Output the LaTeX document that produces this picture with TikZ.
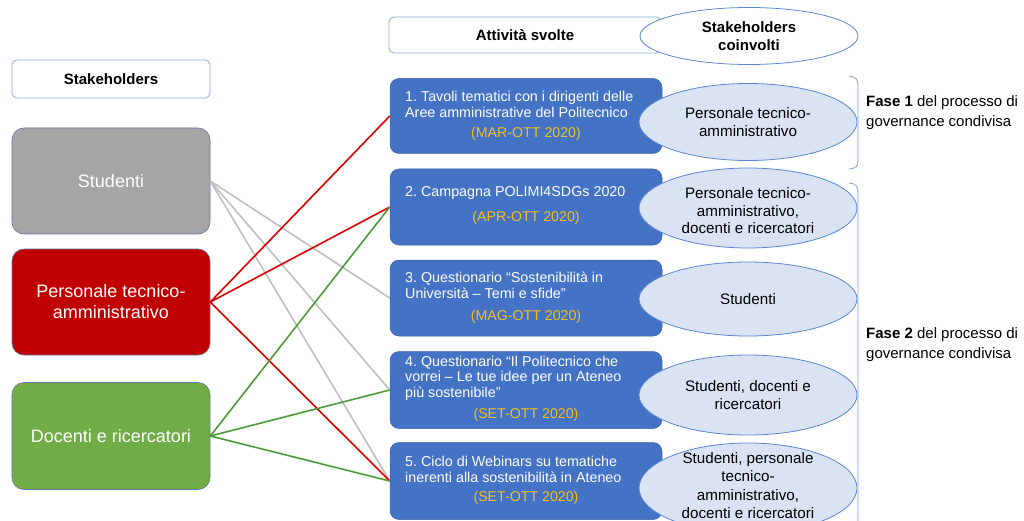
\documentclass[tikz,border=0pt]{standalone}
\usepackage{fontspec}
\setmainfont{Liberation Sans}
\usetikzlibrary{shapes.geometric}
\frenchspacing
\definecolor{boxblue}{HTML}{4472C4}
\definecolor{ellfill}{HTML}{DAE3F3}
\definecolor{ellline}{HTML}{5B86CF}
\definecolor{hdrline}{HTML}{8FAADC}
\definecolor{dategold}{HTML}{F2BE1F}
\definecolor{stgray}{HTML}{A5A5A5}
\definecolor{stred}{HTML}{C00000}
\definecolor{stgreen}{HTML}{70AD47}
\definecolor{lngray}{HTML}{BFBFBF}
\definecolor{lnred}{HTML}{E00000}
\definecolor{lngreen}{HTML}{4E9A3A}
\tikzset{
  hdrbox/.style={draw=hdrline, line width=0.8pt, rounded corners=5pt, fill=white, inner sep=0pt},
  hdrtxt/.style={font=\fontsize{15}{17.5}\selectfont\bfseries, align=center, inner sep=0pt},
  shbox/.style={draw=hdrline!70!black, line width=0.6pt, rounded corners=12pt, inner sep=0pt, minimum width=198pt},
  shtxt/.style={font=\fontsize{18}{21}\selectfont, text=white, align=center, inner sep=0pt},
  actbox/.style={fill=boxblue, draw=boxblue!85!black, line width=0.5pt, rounded corners=9pt, inner sep=0pt, minimum width=272pt},
  acttxt/.style={font=\fontsize{14.3}{15.5}\selectfont, text=white, align=left, inner sep=0pt, anchor=west},
  datetxt/.style={font=\fontsize{14.2}{15}\selectfont, text=dategold, inner sep=0pt},
  stkell/.style={ellipse, draw=ellline, line width=0.8pt, fill=ellfill, inner sep=0pt, minimum width=218pt},
  elltxt/.style={font=\fontsize{15.2}{17.5}\selectfont, align=center, inner sep=0pt},
  fasetxt/.style={font=\fontsize{15}{20}\selectfont, align=left, inner sep=0pt, anchor=west},
  conn/.style={line width=1.6pt},
  brk/.style={draw=ellline!80, line width=0.8pt},
}
\begin{document}
\begin{tikzpicture}[x=1pt, y=-1pt]
\useasboundingbox (0,0) rectangle (1024,521);
\clip (0,0) rectangle (1024,521);
\fill[white] (0,0) rectangle (1024,521);

% left stakeholders
\node[hdrbox, minimum width=198pt, minimum height=38pt] (shh) at (111,79) {};
\node[hdrtxt] (shht) at (shh) {Stakeholders};
\node[shbox, fill=stgray, minimum height=106pt] (stu) at (111,181) {};
\node[shtxt] (stut) at (stu) {Studenti};
\node[shbox, fill=stred, minimum height=106pt] (per) at (111,302) {};
\node[shtxt] (pert) at (per) {Personale tecnico-\\amministrativo};
\node[shbox, fill=stgreen, minimum height=107pt] (doc) at (111,436) {};
\node[shtxt] (doct) at (doc) {Docenti e ricercatori};

% activity boxes
\node[actbox, minimum height=75pt] (a1) at (526,116) {};
\node[actbox, minimum height=76pt] (a2) at (526,207) {};
\node[actbox, minimum height=76pt] (a3) at (526,298) {};
\node[actbox, minimum height=77pt] (a4) at (526,390) {};
\node[actbox, minimum height=77pt] (a5) at (526,481) {};

% connectors
\draw[conn, lngray] (stu.east) -- (a3.west);
\draw[conn, lngray] (stu.east) -- (a4.west);
\draw[conn, lngray] (stu.east) -- (a5.west);
\draw[conn, lnred] (per.east) -- (a1.west);
\draw[conn, lnred] (per.east) -- (a2.west);
\draw[conn, lnred] (per.east) -- (a5.west);
\draw[conn, lngreen] (doc.east) -- (a2.west);
\draw[conn, lngreen] (doc.east) -- (a4.west);
\draw[conn, lngreen] (doc.east) -- (a5.west);

% activity texts
\node[acttxt] (a1t) at (405,104.5) {1. Tavoli tematici con i dirigenti delle\\Aree amministrative del Politecnico};
\node[datetxt] (a1d) at (526,134) {(MAR-OTT 2020)};
\node[acttxt] (a2t) at (405,193) {2. Campagna POLIMI4SDGs 2020};
\node[datetxt] (a2d) at (526,218) {(APR-OTT 2020)};
\node[acttxt] (a3t) at (405,285.5) {3. Questionario “Sostenibilità in\\Università – Temi e sfide”};
\node[datetxt] (a3d) at (526,317) {(MAG-OTT 2020)};
\node[acttxt] (a4t) at (405,378) {4. Questionario “Il Politecnico che\\vorrei – Le tue idee per un Ateneo\\più sostenibile”};
\node[datetxt] (a4d) at (526,415) {(SET-OTT 2020)};
\node[acttxt] (a5t) at (405,469.5) {5. Ciclo di Webinars su tematiche\\inerenti alla sostenibilità in Ateneo};
\node[datetxt] (a5d) at (526,498) {(SET-OTT 2020)};

% headers of the right part
\node[hdrbox, minimum width=272pt, minimum height=36pt] (ah) at (525,35) {};
\node[hdrtxt] (aht) at (525,35) {Attività svolte};
\node[ellipse, draw=ellline, line width=0.8pt, fill=white, inner sep=0pt, minimum width=218pt, minimum height=57pt] (eh) at (749,36) {};
\node[hdrtxt] (eht) at (eh) {Stakeholders\\coinvolti};

% stakeholder ellipses
\node[stkell, minimum height=77pt] (e1) at (748,122) {};
\node[elltxt] (e1t) at (e1) {Personale tecnico-\\amministrativo};
\node[stkell, minimum height=80pt] (e2) at (748,208) {};
\node[elltxt] (e2t) at (748,211) {Personale tecnico-\\amministrativo,\\docenti e ricercatori};
\node[stkell, minimum height=74pt] (e3) at (748,299) {};
\node[elltxt] (e3t) at (e3) {Studenti};
\node[stkell, minimum height=80pt] (e4) at (748,395) {};
\node[elltxt] (e4t) at (e4) {Studenti, docenti e\\ricercatori};
\node[stkell, minimum height=90pt] (e5) at (748,488) {};
\node[elltxt, font=\fontsize{15.2}{18.3}\selectfont] (e5t) at (748,485.5) {Studenti, personale\\tecnico-\\amministrativo,\\docenti e ricercatori};

% brackets
\draw[brk] (849,76) .. controls (857,77) and (858,80) .. (858,86) -- (858,160) .. controls (858,166) and (857,168) .. (849,169);
\draw[brk] (849,183) .. controls (857,184) and (858,187) .. (858,193) -- (858,530);

% phase texts
\node[fasetxt] (f1) at (866,113) {\textbf{Fase 1} del processo di\\governance condivisa};
\node[fasetxt] (f2) at (866,345) {\textbf{Fase 2} del processo di\\governance condivisa};
\end{tikzpicture}
\end{document}
